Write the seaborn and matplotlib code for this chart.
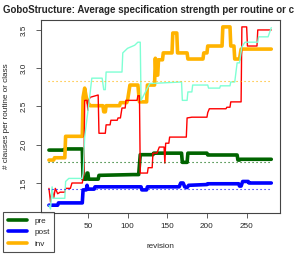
import numpy as np
import pandas as pd
import matplotlib
matplotlib.use("Agg")
import matplotlib.pyplot as plt
import seaborn as sns

# (revision, value) breakpoints
pre_rev = [1, 20, 21, 43, 44, 48, 49, 50, 51, 63, 64, 107, 114, 116, 132, 133,
           168, 169, 175, 176, 200, 201, 238, 239, 241, 242, 281]
pre_val = [1.93, 1.93, 1.945, 1.945, 1.55, 1.55, 1.63, 1.63, 1.55, 1.55, 1.60, 1.61,
           1.61, 1.87, 1.87, 1.89, 1.89, 1.77, 1.77, 1.89, 1.89, 1.866, 1.866, 1.80,
           1.80, 1.81, 1.81]

post_rev = [1, 12, 13, 43, 44, 48, 49, 50, 58, 59, 117, 118, 124, 125, 165, 167,
            170, 172, 175, 177, 200, 201, 240, 241, 243, 245, 252, 253, 281]
post_val = [1.21, 1.21, 1.24, 1.24, 1.41, 1.41, 1.47, 1.42, 1.42, 1.45, 1.45, 1.41,
            1.41, 1.45, 1.45, 1.50, 1.50, 1.45, 1.44, 1.47, 1.48, 1.49, 1.49, 1.46,
            1.46, 1.52, 1.52, 1.50, 1.50]

inv_rev = [1, 7, 8, 21, 22, 43, 44, 46, 48, 50, 53, 69, 70, 72, 73, 90, 91, 99, 100,
           103, 113, 115, 124, 125, 134, 135, 136, 138, 139, 144, 145, 156, 157, 162,
           163, 175, 176, 195, 196, 200, 201, 219, 220, 229, 230, 234, 235, 241, 243, 281]
inv_val = [1.80, 1.80, 1.83, 1.83, 2.11, 2.11, 2.62, 2.74, 2.62, 2.55, 2.51, 2.51,
           2.43, 2.43, 2.51, 2.51, 2.55, 2.55, 2.58, 2.78, 2.78, 2.56, 2.56, 2.78,
           2.78, 3.13, 2.91, 2.91, 3.11, 3.11, 3.20, 3.20, 3.46, 3.46, 3.20, 3.20,
           3.12, 3.12, 3.20, 3.20, 3.29, 3.29, 3.54, 3.54, 3.29, 3.29, 3.12, 3.12,
           3.25, 3.25]

red_rev = [1, 3, 5, 7, 9, 12, 15, 21, 22, 28, 30, 43, 45, 46, 49, 50, 51, 53, 63, 64,
           72, 73, 78, 79, 87, 88, 91, 93, 97, 98, 112, 113, 115, 116, 125, 126, 131,
           132, 137, 140, 146, 147, 148, 152, 153, 174, 175, 181, 200, 201, 203, 224,
           225, 229, 230, 243, 244, 250, 251, 263, 264, 281]
red_val = [1.43, 1.25, 1.41, 1.30, 1.43, 1.36, 1.38, 1.38, 1.43, 1.43, 1.50, 1.50,
           1.63, 2.58, 2.58, 2.45, 2.58, 2.62, 2.65, 2.15, 2.15, 2.26, 2.26, 2.32,
           2.32, 2.35, 2.35, 2.48, 2.48, 2.58, 2.58, 2.64, 2.64, 1.63, 1.63, 1.70,
           1.70, 1.89, 1.89, 1.97, 1.97, 1.76, 2.02, 2.02, 2.10, 2.10, 2.35, 2.36,
           2.36, 2.42, 2.47, 2.47, 2.49, 2.49, 2.56, 2.56, 3.54, 3.54, 3.29, 3.29,
           3.50, 3.50]

aqua_rev = [1, 3, 5, 6, 9, 21, 22, 26, 43, 44, 46, 52, 55, 68, 70, 72, 73, 93, 94,
            100, 109, 113, 116, 117, 124, 128, 168, 169, 175, 176, 181, 182, 201,
            202, 216, 217, 229, 230, 235, 238, 241, 244, 248, 264, 265, 277, 281]
aqua_val = [1.21, 1.16, 1.45, 1.30, 1.30, 1.30, 1.52, 1.56, 1.56, 1.62, 2.10, 2.60,
            2.87, 2.87, 2.72, 2.72, 2.95, 2.95, 3.20, 3.26, 3.30, 3.34, 3.34, 2.58,
            2.72, 2.80, 2.82, 2.58, 2.58, 2.69, 2.69, 2.78, 2.78, 2.74, 2.74, 2.77,
            2.77, 2.82, 2.82, 3.07, 3.07, 3.28, 3.34, 3.34, 3.41, 3.41, 3.53]

avg_pre = 1.78
avg_post = 1.42
avg_inv = 2.83

c_pre = "#006400"
c_post = "#0000FF"
c_inv = "#FFB300"

sns.set_style("white")
plt.rcParams["font.family"] = ["Liberation Sans", "DejaVu Sans"]

fig = plt.figure(figsize=(2.94, 2.54), dpi=100)
ax = fig.add_axes([41 / 294, 41 / 254, 239 / 294, 193 / 254])

thick = 2.6
thin = 1.0
for rev, val, col, lw, lab in [(pre_rev, pre_val, c_pre, thick, "pre"),
                               (post_rev, post_val, c_post, thick, "post"),
                               (inv_rev, inv_val, c_inv, thick, "inv"),
                               (red_rev, red_val, "red", thin, None),
                               (aqua_rev, aqua_val, "#7FFFD4", thin, None)]:
    sns.lineplot(x=rev, y=val, ax=ax, color=col, lw=lw, estimator=None,
                 label=lab, legend=False)

for avg, col in [(avg_inv, c_inv), (avg_pre, c_pre), (avg_post, c_post)]:
    ax.plot([0, 281], [avg, avg], color=col, lw=0.8, ls=(0, (1, 2.6)))

ax.set_xlim(-9, 292)
ax.set_ylim(1.108, 3.63)
ax.set_xticks([50, 100, 150, 200, 250])
ax.set_yticks([1.5, 2.0, 2.5, 3.0, 3.5])
ax.tick_params(axis="both", labelsize=5.9, length=3.5, width=0.6, color="#444444",
               direction="out", bottom=True, left=True)
ax.tick_params(axis="x", pad=4)
ax.tick_params(axis="y", pad=6)
for lbl in ax.get_yticklabels():
    lbl.set_rotation(90)
    lbl.set_va("center")
for sp in ax.spines.values():
    sp.set_color("#444444")
    sp.set_linewidth(0.8)

ax.set_xlabel("revision", fontsize=5.9, labelpad=9)
ax.set_ylabel("# clauses per routine or class", fontsize=5.9, labelpad=8)
# title runs past the right edge, as in the original
fig.text(3 / 294, 1 - 10 / 254, "GoboStructure: Average specification strength per routine or class",
         fontsize=7.0, fontweight="bold", ha="left", va="center")

handles = ax.get_lines()[:3]
leg = fig.legend(handles, ["pre", "post", "inv"], loc="upper left",
                 bbox_to_anchor=(3 / 294, 1 - 212 / 254), fontsize=5.9,
                 frameon=True, fancybox=False, edgecolor="#222222",
                 handlelength=2.3, handletextpad=0.9, labelspacing=0.45,
                 borderpad=0.6, borderaxespad=0)
leg.get_frame().set_linewidth(0.8)

fig.savefig("out.png", dpi=100)
